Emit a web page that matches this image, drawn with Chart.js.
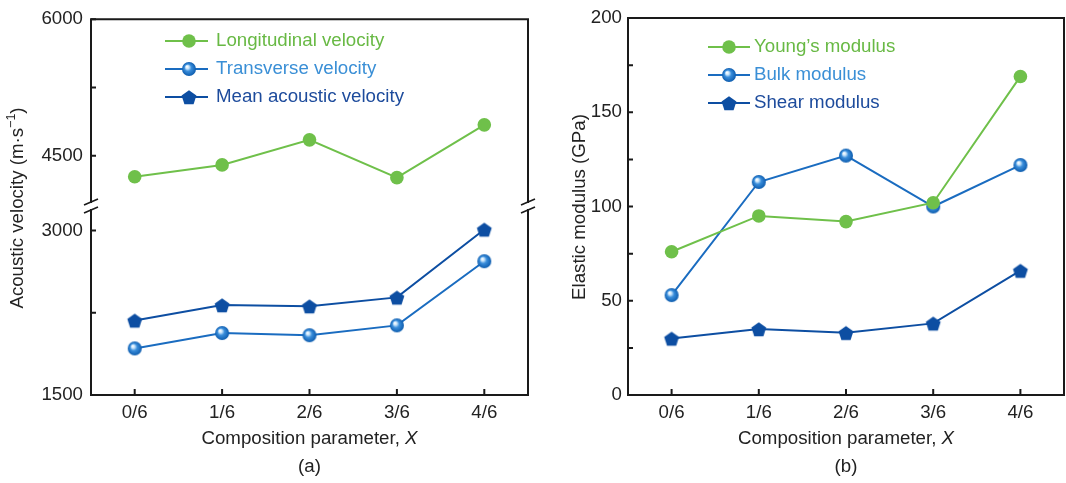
<!DOCTYPE html>
<html>
<head>
<meta charset="utf-8">
<script src="https://cdn.jsdelivr.net/npm/chart.js@4.4.1/dist/chart.umd.min.js"></script>
<style>
  html, body { margin: 0; padding: 0; background: #fff; overflow: hidden; }
  #wrap { position: relative; width: 1066px; height: 483px; }
  #velChart { position: absolute; left: 0; top: 0; }
  #modChart { position: absolute; left: 540px; top: 0; }
</style>
</head>
<body>
<div id="wrap">
  <canvas id="velChart" width="540" height="483"></canvas>
  <canvas id="modChart" width="526" height="483"></canvas>
</div>
<script>
// ---- data ----
const compositions = ["0/6", "1/6", "2/6", "3/6", "4/6"];

const longitudinal = [4270, 4400, 4675, 4260, 4840];   // m/s
const transverse   = [1925, 2065, 2045, 2135, 2720];
const meanVelocity = [2180, 2320, 2310, 2390, 3010];

const youngs = [76, 95, 92, 102, 169];                 // GPa
const bulk   = [53, 113, 127, 100, 122];
const shear  = [30, 35, 33, 38, 66];

const velTicksTop    = [4500, 5250, 6000];
const velTicksBottom = [1500, 2250, 3000];
const modTicks       = [0, 25, 50, 75, 100, 125, 150, 175, 200];

// ---- styles ----
const FONT = '"Liberation Sans", Arial, Helvetica, sans-serif';
const FS = 18.7;
const GREEN = '#6fc04a';
const BLUE = '#1a6cc0';
const NAVY = '#0d4ea2';
const INK = '#1a1a1a';

Chart.defaults.font.family = FONT;
Chart.defaults.font.size = FS;
Chart.defaults.color = '#222';

function makeSphere(r) {
    const c = document.createElement('canvas');
    const s = Math.ceil(r * 2 + 2);
    c.width = c.height = s;
    const g = c.getContext('2d');
    const m = s / 2;
    const grad = g.createRadialGradient(m - r * 0.3, m - r * 0.35, 0.3, m, m, r);
    grad.addColorStop(0, '#ffffff');
    grad.addColorStop(0.22, '#c4e2fa');
    grad.addColorStop(0.48, '#3a8edb');
    grad.addColorStop(1, '#0d5cae');
    g.fillStyle = grad;
    g.beginPath();
    g.arc(m, m, r, 0, Math.PI * 2);
    g.fill();
    return c;
}

function makePentagon(r, color) {
    const c = document.createElement('canvas');
    const s = Math.ceil(r * 2 + 2);
    c.width = c.height = s;
    const g = c.getContext('2d');
    const m = s / 2;
    g.fillStyle = color;
    g.beginPath();
    for (let i = 0; i < 5; i++) {
        const a = -Math.PI / 2 + i * 2 * Math.PI / 5;
        const px = m + r * Math.cos(a);
        const py = m + 1 + r * Math.sin(a);
        if (i === 0) g.moveTo(px, py); else g.lineTo(px, py);
    }
    g.closePath();
    g.fill();
    return c;
}

const sphere = makeSphere(7);
const pentagon = makePentagon(7.8, NAVY);

function lineSet(label, data, color, legendColor, pointStyle, yAxisID) {
    return {
        label, data, yAxisID,
        borderColor: color,
        backgroundColor: color,
        borderWidth: 2,
        pointStyle: pointStyle,
        pointRadius: 6.8,
        pointBackgroundColor: color,
        pointBorderColor: color,
        pointBorderWidth: 0,
        tension: 0,
        clip: false,
        legendColor
    };
}

function plainAxis(extra) {
    return Object.assign({
        grid: { display: false, drawTicks: false },
        border: { display: false }
    }, extra);
}

function fixX(s) {
    s.height = 88;
    s.paddingLeft = 0;
    s.paddingRight = 0;
}

// frame, inner ticks, titles and legend drawn on top of chart.js' layout
function decorPlugin(cfg) {
    return {
        id: 'decor',
        beforeDatasetsDraw(chart) {
            const ctx = chart.ctx;
            const a = chart.chartArea;
            ctx.save();
            ctx.strokeStyle = INK;
            ctx.lineWidth = 2;
            ctx.lineCap = 'square';

            // frame (with optional axis break)
            const edges = [a.left, a.right];
            ctx.beginPath();
            ctx.moveTo(a.left, a.top); ctx.lineTo(a.right, a.top);
            ctx.moveTo(a.left, a.bottom); ctx.lineTo(a.right, a.bottom);
            edges.forEach(x => {
                if (cfg.breakY) {
                    ctx.moveTo(x, a.top); ctx.lineTo(x, cfg.breakY - 4);
                    ctx.moveTo(x, cfg.breakY + 4); ctx.lineTo(x, a.bottom);
                } else {
                    ctx.moveTo(x, a.top); ctx.lineTo(x, a.bottom);
                }
            });
            ctx.stroke();

            if (cfg.breakY) {
                ctx.lineWidth = 1.6;
                ctx.lineCap = 'butt';
                ctx.beginPath();
                edges.forEach(x => {
                    [cfg.breakY - 4, cfg.breakY + 4].forEach(y => {
                        ctx.moveTo(x - 7, y + 3);
                        ctx.lineTo(x + 7, y - 3);
                    });
                });
                ctx.stroke();
            }

            // inward tick marks
            ctx.lineWidth = 2;
            ctx.lineCap = 'butt';
            ctx.beginPath();
            const xs = chart.scales.x;
            xs.ticks.forEach((t, i) => {
                const px = xs.getPixelForTick(i);
                ctx.moveTo(px, a.bottom);
                ctx.lineTo(px, a.bottom - 6);
            });
            cfg.yScales.forEach(id => {
                const ys = chart.scales[id];
                ys.ticks.forEach(t => {
                    const py = ys.getPixelForValue(t.value);
                    ctx.moveTo(a.left, py);
                    ctx.lineTo(a.left + 5, py);
                });
            });
            ctx.stroke();
            ctx.restore();
        },
        afterDraw(chart) {
            const ctx = chart.ctx;
            const a = chart.chartArea;
            const cx = (a.left + a.right) / 2;
            ctx.save();
            ctx.fillStyle = '#222';
            ctx.textBaseline = 'middle';

            // x title with italic X
            const normal = `${FS}px ${FONT}`;
            const italic = `italic ${FS}px ${FONT}`;
            const part1 = 'Composition parameter, ';
            ctx.font = normal;
            const w1 = ctx.measureText(part1).width;
            ctx.font = italic;
            const w2 = ctx.measureText('X').width;
            let x0 = cx - (w1 + w2) / 2;
            ctx.font = normal;
            ctx.textAlign = 'left';
            ctx.fillText(part1, x0, 439);
            ctx.font = italic;
            ctx.fillText('X', x0 + w1, 439);

            // panel caption
            ctx.font = normal;
            ctx.textAlign = 'center';
            ctx.fillText(cfg.caption, cx, 467);

            // y title (pieces so the superscript sits raised)
            ctx.save();
            ctx.translate(cfg.yTitleX, cfg.yTitleY);
            ctx.rotate(-Math.PI / 2);
            const pieces = cfg.yTitle;
            let total = 0;
            pieces.forEach(p => {
                ctx.font = `${p.size || FS}px ${FONT}`;
                p.w = ctx.measureText(p.text).width;
                total += p.w;
            });
            let px = -total / 2;
            ctx.textAlign = 'left';
            pieces.forEach(p => {
                ctx.font = `${p.size || FS}px ${FONT}`;
                ctx.fillText(p.text, px, p.dy || 0);
                px += p.w;
            });
            ctx.restore();

            // legend
            const L = cfg.legend;
            chart.data.datasets.forEach((ds, i) => {
                const y = L.y + i * L.gap;
                ctx.strokeStyle = ds.borderColor;
                ctx.lineWidth = 2;
                ctx.beginPath();
                ctx.moveTo(L.x0, y);
                ctx.lineTo(L.x1, y);
                ctx.stroke();
                if (typeof ds.pointStyle === 'object') {
                    const img = ds.pointStyle;
                    ctx.drawImage(img, L.mx - img.width / 2, y - img.height / 2);
                } else {
                    ctx.fillStyle = ds.pointBackgroundColor;
                    ctx.beginPath();
                    ctx.arc(L.mx, y, 6.8, 0, Math.PI * 2);
                    ctx.fill();
                }
                ctx.fillStyle = ds.legendColor;
                ctx.font = normal;
                ctx.textAlign = 'left';
                ctx.fillText(ds.label, L.tx, y);
            });
            ctx.restore();
        }
    };
}

/* =========================
   (a) acoustic velocity, broken axis
   ========================= */
new Chart(document.getElementById('velChart').getContext('2d'), {
    type: 'line',
    data: {
        labels: compositions,
        datasets: [
            lineSet('Longitudinal velocity', longitudinal, GREEN, '#68b944', 'circle', 'yTop'),
            lineSet('Transverse velocity', transverse, BLUE, '#3a8fd6', sphere, 'yBot'),
            lineSet('Mean acoustic velocity', meanVelocity, NAVY, '#1d4b9c', pentagon, 'yBot')
        ]
    },
    options: {
        responsive: false,
        animation: false,
        events: [],
        layout: { autoPadding: false, padding: { top: 18, right: 12, bottom: 0, left: 0 } },
        plugins: { legend: { display: false }, tooltip: { enabled: false } },
        scales: {
            x: plainAxis({
                type: 'category',
                offset: true,
                ticks: { padding: 7 },
                afterFit: fixX
            }),
            yBot: plainAxis({
                type: 'linear',
                position: 'left',
                stack: 'vel',
                stackWeight: 189,
                weight: 0,
                min: 1500,
                max: 3218,
                ticks: { padding: 8, callback: v => (v % 1500 === 0 ? String(v) : '') },
                afterBuildTicks: s => { s.ticks = velTicksBottom.map(v => ({ value: v })); },
                afterFit: s => { s.width = 91; }
            }),
            yTop: plainAxis({
                type: 'linear',
                position: 'left',
                stack: 'vel',
                stackWeight: 188,
                weight: 1,
                min: 3942,
                max: 6000,
                ticks: { padding: 8, callback: v => (v % 1500 === 0 ? String(v) : '') },
                afterBuildTicks: s => { s.ticks = velTicksTop.map(v => ({ value: v })); },
                afterFit: s => { s.width = 91; }
            })
        }
    },
    plugins: [decorPlugin({
        breakY: 206,
        yScales: ['yTop', 'yBot'],
        caption: '(a)',
        yTitleX: 18,
        yTitleY: 208,
        yTitle: [
            { text: 'Acoustic velocity (m·s' },
            { text: '−1', size: 12.5, dy: -6 },
            { text: ')' }
        ],
        legend: { x0: 165, x1: 208, mx: 189, tx: 216, y: 41, gap: 28 }
    })]
});

/* =========================
   (b) elastic moduli
   ========================= */
new Chart(document.getElementById('modChart').getContext('2d'), {
    type: 'line',
    data: {
        labels: compositions,
        datasets: [
            lineSet('Young\u2019s modulus', youngs, GREEN, '#68b944', 'circle', 'y'),
            lineSet('Bulk modulus', bulk, BLUE, '#3a8fd6', sphere, 'y'),
            lineSet('Shear modulus', shear, NAVY, '#1d4b9c', pentagon, 'y')
        ]
    },
    options: {
        responsive: false,
        animation: false,
        events: [],
        layout: { autoPadding: false, padding: { top: 18, right: 2, bottom: 0, left: 0 } },
        plugins: { legend: { display: false }, tooltip: { enabled: false } },
        scales: {
            x: plainAxis({
                type: 'category',
                offset: true,
                ticks: { padding: 7 },
                afterFit: fixX
            }),
            y: plainAxis({
                type: 'linear',
                position: 'left',
                min: 0,
                max: 200,
                ticks: { padding: 6, callback: v => (v % 50 === 0 ? String(v) : '') },
                afterBuildTicks: s => { s.ticks = modTicks.map(v => ({ value: v })); },
                afterFit: s => { s.width = 88; }
            })
        }
    },
    plugins: [decorPlugin({
        breakY: null,
        yScales: ['y'],
        caption: '(b)',
        yTitleX: 40,
        yTitleY: 207,
        yTitle: [{ text: 'Elastic modulus (GPa)' }],
        legend: { x0: 168, x1: 210, mx: 189, tx: 214, y: 47, gap: 28 }
    })]
});
</script>
</body>
</html>
